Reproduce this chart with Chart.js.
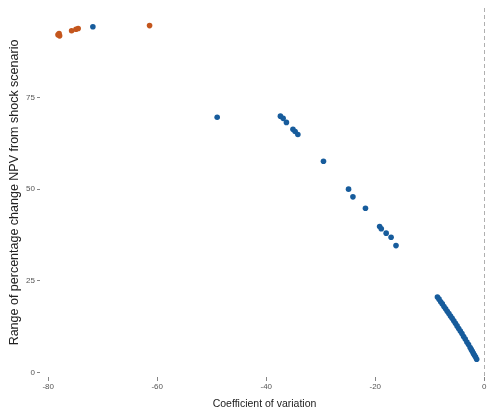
<!DOCTYPE html>
<html>
<head>
<meta charset="utf-8">
<script src="https://cdn.jsdelivr.net/npm/chart.js@4.4.1/dist/chart.umd.min.js"></script>
<style>
  html, body { margin: 0; padding: 0; background: #fff; }
  #wrap { width: 493px; height: 410px; }
</style>
</head>
<body>
<div id="wrap"><canvas id="grafico" width="493" height="410"></canvas></div>
<script>
// orange group
const laranjaX = [-78.0, -77.9, -78.2, -75.7, -74.9, -74.5, -61.4];
const laranjaY = [92.4, 91.8, 92.1, 93.2, 93.6, 93.8, 94.6];

// blue group
const azulX = [-71.8, -49.0, -37.4, -36.9, -36.3, -35.1, -34.7, -34.2, -29.5, -24.9, -24.1, -21.8,
  -19.2, -18.9, -18.0, -17.1, -16.2,
  -8.6, -8.3, -8.0, -7.7, -7.4, -7.1, -6.8, -6.5, -6.2, -5.9, -5.6, -5.3, -5.0, -4.7, -4.4,
  -4.1, -3.8, -3.5, -3.2, -2.9, -2.6, -2.4, -2.2, -2.0, -1.8, -1.6, -1.4];
const azulY = [94.3, 69.6, 69.9, 69.3, 68.2, 66.3, 65.7, 64.9, 57.6, 50.0, 47.9, 44.8,
  39.8, 39.2, 38.0, 36.9, 34.6,
  20.6, 20.0, 19.3, 18.7, 18.0, 17.4, 16.7, 16.1, 15.4, 14.8, 14.1, 13.4, 12.7, 12.0, 11.3,
  10.6, 9.8, 9.1, 8.3, 7.6, 6.8, 6.3, 5.8, 5.2, 4.7, 4.2, 3.6];

const ticksX = [-80, -60, -40, -20, 0];
const ticksY = [0, 25, 50, 75];
const linhaRef = 0;

const pares = (xs, ys) => xs.map((x, i) => ({ x: x, y: ys[i] }));

// dashed reference line at x = 0
const linhaTracejada = {
  id: "linhaTracejada",
  beforeDatasetsDraw(chart) {
    const { ctx, chartArea, scales } = chart;
    const px = Math.round(scales.x.getPixelForValue(linhaRef)) + 0.5;
    ctx.save();
    ctx.strokeStyle = "#9a9a9a";
    ctx.lineWidth = 0.8;
    ctx.setLineDash([4, 3]);
    ctx.beginPath();
    ctx.moveTo(px, chartArea.top);
    ctx.lineTo(px, chartArea.bottom);
    ctx.stroke();
    ctx.restore();
  }
};

const fonte = "'Liberation Sans', Arial, sans-serif";

new Chart(document.getElementById("grafico"), {
  type: "scatter",
  data: {
    datasets: [
      { data: pares(laranjaX, laranjaY), backgroundColor: "#c4561d", borderColor: "#c4561d", pointRadius: 2.8, pointBorderWidth: 0 },
      { data: pares(azulX, azulY), backgroundColor: "#175c9c", borderColor: "#175c9c", pointRadius: 2.8, pointBorderWidth: 0 }
    ]
  },
  options: {
    responsive: false,
    animation: false,
    layout: { padding: { top: 8, right: 0, left: 0, bottom: 0 } },
    plugins: { legend: { display: false }, tooltip: { enabled: false } },
    scales: {
      x: {
        type: "linear",
        min: -81.5,
        max: 0.86,
        afterBuildTicks: s => { s.ticks = ticksX.map(v => ({ value: v })); },
        afterFit: s => { s.height = 33; },
        border: { display: false },
        grid: { drawOnChartArea: false, drawTicks: true, tickLength: 4, color: "#666", lineWidth: 0.8 },
        ticks: { color: "#555", font: { family: fonte, size: 8 }, padding: 1, maxRotation: 0 },
        title: { display: true, text: "Coefficient of variation", color: "#222", font: { family: fonte, size: 10.5 }, padding: { top: 1, bottom: 0 } }
      },
      y: {
        type: "linear",
        min: -1.23,
        max: 99.4,
        afterBuildTicks: s => { s.ticks = ticksY.map(v => ({ value: v })); },
        afterFit: s => { s.width = 40; },
        border: { display: false },
        grid: { drawOnChartArea: false, drawTicks: true, tickLength: 3, color: "#666", lineWidth: 0.8 },
        ticks: { color: "#555", font: { family: fonte, size: 8 }, padding: 2 },
        title: { display: true, text: "Range of percentage change NPV from shock scenario", color: "#222", font: { family: fonte, size: 12.5 }, padding: { top: 7.5, bottom: 0 } }
      }
    }
  },
  plugins: [linhaTracejada]
});
</script>
</body>
</html>
